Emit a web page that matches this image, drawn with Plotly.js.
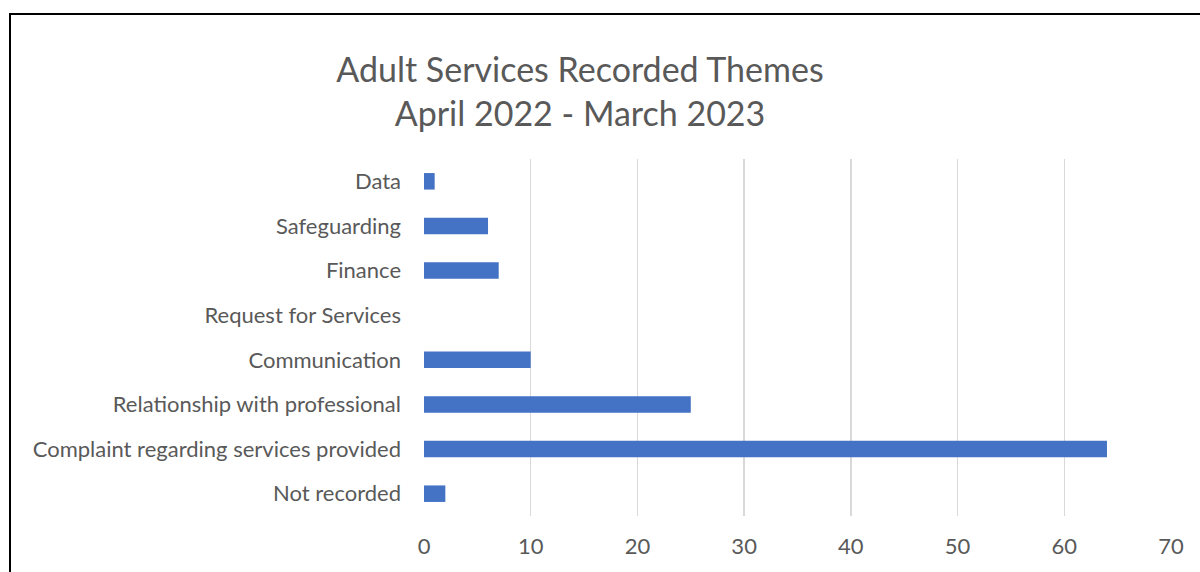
<!DOCTYPE html>
<html>
<head>
<meta charset="utf-8">
<script src="https://cdn.plot.ly/plotly-3.0.1.min.js"></script>
<style>
html,body{margin:0;padding:0;background:#fff;}
#chart{width:1200px;height:572px;}
#frame{position:absolute;left:9px;top:13px;width:1300px;height:700px;border-left:2px solid #000;border-top:2px solid #000;pointer-events:none;}
</style>
</head>
<body>
<div id="chart"></div>
<div id="frame"></div>
<script>
const categories = ["Data","Safeguarding","Finance","Request for Services","Communication","Relationship with professional","Complaint regarding services provided","Not recorded"];
const counts = [1,6,7,0,10,25,64,2];
const xTicks = [0,10,20,30,40,50,60,70];
const titleLines = ["Adult Services Recorded Themes","April 2022 - March 2023"];

const trace = {
  type:'bar', orientation:'h',
  x: counts, y: categories,
  marker:{color:'#4472C4'},
  hoverinfo:'x+y'
};
const layout = {
  width:1200, height:572,
  margin:{l:424, r:29, t:159, b:56, pad:0},
  paper_bgcolor:'#fff', plot_bgcolor:'#fff',
  font:{family:'Lato, "Liberation Sans", sans-serif', color:'#595959', size:22},
  title:{text:titleLines.join('<br>'), x:580/1200, xref:'container', xanchor:'center', y:1-82/572, yref:'container', yanchor:'middle',
         font:{size:34, color:'#595959'}},
  bargap:0.63,
  showlegend:false,
  xaxis:{range:[0,70], tickvals:xTicks, showgrid:true, gridcolor:'#d9d9d9', gridwidth:1.3, zeroline:false, showline:false, ticks:'', ticklabelstandoff:15, tickfont:{size:22}},
  yaxis:{autorange:'reversed', showgrid:false, zeroline:false, showline:false, ticks:'', ticklabelstandoff:22, tickfont:{size:22}}
};
Plotly.newPlot('chart',[trace],layout,{displayModeBar:false, staticPlot:true});
</script>
</body>
</html>
